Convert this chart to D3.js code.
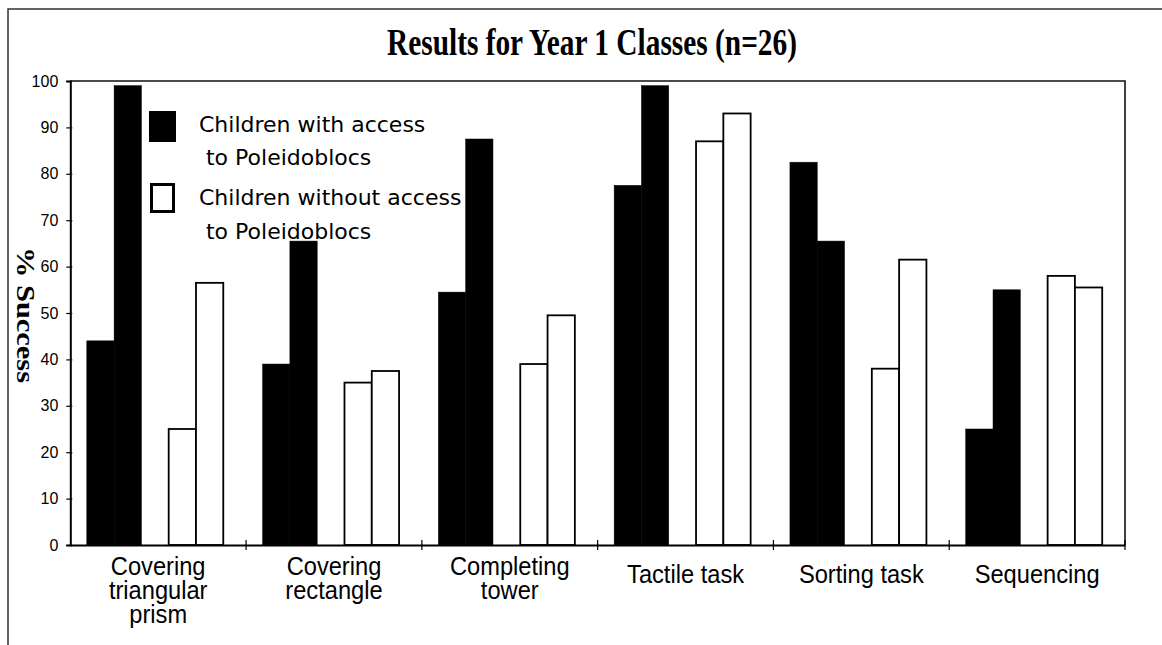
<!DOCTYPE html>
<html>
<head>
<meta charset="utf-8">
<script src="https://cdn.jsdelivr.net/npm/d3@7"></script>
<style>
  body { margin: 0; background: #fff; }
  svg { display: block; }
</style>
</head>
<body>
<div id="my_dataviz"></div>
<script>
// data
var categories = ["Covering\ntriangular\nprism", "Covering\nrectangle", "Completing\ntower",
                  "Tactile task", "Sorting task", "Sequencing"];
var withAccessA    = [44, 39, 54.5, 77.5, 82.5, 25];
var withAccessB    = [99, 65.5, 87.5, 99, 65.5, 55];
var withoutAccessA = [25, 35, 39, 87, 38, 58];
var withoutAccessB = [56.5, 37.5, 49.5, 93, 61.5, 55.5];
var yTicks = [0, 10, 20, 30, 40, 50, 60, 70, 80, 90, 100];
var legendLabels = [["Children with access", " to Poleidoblocs"],
                    ["Children without access", " to Poleidoblocs"]];

// set the dimensions and margins of the graph
var W = 1162, H = 645;
var margin = {top: 81, right: 37, bottom: 100, left: 70.3},
    width = 1125 - margin.left,
    height = 545 - margin.top;

var root = d3.select("#my_dataviz")
  .append("svg")
    .attr("width", W)
    .attr("height", H);

// outer frame (top and left edge only, like the scan)
root.append("path")
  .attr("d", "M8,645 L8,9 L1162,9")
  .attr("fill", "none")
  .attr("stroke", "#333")
  .attr("stroke-width", 1.5);

// title
root.append("text")
  .attr("x", 592).attr("y", 55)
  .attr("text-anchor", "middle")
  .style("font-family", "'Liberation Serif', 'Times New Roman', serif")
  .style("font-weight", "bold")
  .style("font-size", "38px")
  .attr("textLength", 410)
  .attr("lengthAdjust", "spacingAndGlyphs")
  .text("Results for Year 1 Classes (n=26)");

var svg = root.append("g")
  .attr("transform", "translate(" + margin.left + "," + margin.top + ")");

// scales
var x = d3.scaleBand()
  .domain(categories)
  .range([0, width])
  .padding(0);

var slots = ["wa", "wb", "gap", "na", "nb"];
var x1 = d3.scaleBand()
  .domain(slots)
  .range([0, x.bandwidth()])
  .paddingInner(0)
  .paddingOuter(0.72)
  .align(0.42);

var y = d3.scaleLinear()
  .domain([0, 100])
  .range([height, 0]);

// flatten into bars
var bars = [];
categories.forEach(function(c, i) {
  bars.push({cat: c, slot: "wa", v: withAccessA[i], fill: "#000"});
  bars.push({cat: c, slot: "wb", v: withAccessB[i], fill: "#000"});
  bars.push({cat: c, slot: "na", v: withoutAccessA[i], fill: "#fff"});
  bars.push({cat: c, slot: "nb", v: withoutAccessB[i], fill: "#fff"});
});

svg.selectAll(".bar")
  .data(bars)
  .enter().append("rect")
    .attr("class", "bar")
    .attr("x", function(d) { return x(d.cat) + x1(d.slot); })
    .attr("y", function(d) { return y(d.v); })
    .attr("width", x1.bandwidth())
    .attr("height", function(d) { return height - y(d.v); })
    .style("fill", function(d) { return d.fill; })
    .style("stroke", "#000")
    .style("stroke-width", function(d) { return d.fill == "#000" ? 0.5 : 1.8; });

// plot frame: top and right
svg.append("path")
  .attr("d", "M0,0 L" + width + ",0 L" + width + "," + height)
  .attr("fill", "none")
  .attr("stroke", "#111")
  .attr("stroke-width", 1.6);

// Y axis
var yAxis = svg.append("g")
  .call(d3.axisLeft(y).tickValues(yTicks).tickSize(4).tickPadding(8));
yAxis.select(".domain").attr("stroke-width", 2);
yAxis.selectAll(".tick line").attr("x1", 2).attr("stroke-width", 1.2);
yAxis.selectAll(".tick text")
  .style("font-family", "'Liberation Sans', Arial, sans-serif")
  .style("font-size", "16px")
  .attr("fill", "#000");

// X axis: ticks on category boundaries
var xAxis = svg.append("g")
  .attr("transform", "translate(0," + height + ")")
  .call(d3.axisBottom(x).tickSize(0).tickFormat(""));
xAxis.select(".domain").attr("stroke-width", 2);

var bounds = categories.map(function(c) { return x(c); }).slice(1).concat([width]);
xAxis.selectAll(".bound")
  .data(bounds)
  .enter().append("line")
    .attr("class", "bound")
    .attr("x1", function(d) { return d; })
    .attr("x2", function(d) { return d; })
    .attr("y1", -5).attr("y2", 5)
    .attr("stroke", "#000")
    .attr("stroke-width", 1.2);

// category labels (multi-line, slightly condensed like the original)
xAxis.selectAll(".cat")
  .data(categories)
  .enter().append("text")
    .attr("class", "cat")
    .attr("text-anchor", "middle")
    .attr("transform", function(d) {
      var ty = d.indexOf("\n") < 0 ? 38 : 30;
      return "translate(" + (x(d) + x.bandwidth() / 2) + "," + ty + ") scale(0.91,1)";
    })
    .style("font-family", "'Liberation Sans', Arial, sans-serif")
    .style("font-size", "26px")
    .attr("fill", "#000")
    .each(function(d) {
      var t = d3.select(this);
      d.split("\n").forEach(function(line, k) {
        t.append("tspan")
          .attr("x", 0)
          .attr("dy", k == 0 ? 0 : 24)
          .text(line);
      });
    });

// y label
root.append("text")
  .attr("transform", "translate(17,315) rotate(90)")
  .attr("text-anchor", "middle")
  .style("font-family", "'Liberation Serif', 'Times New Roman', serif")
  .style("font-weight", "bold")
  .style("font-size", "26px")
  .attr("textLength", 136)
  .attr("lengthAdjust", "spacingAndGlyphs")
  .text("% Success");

// legend
var legend = root.append("g");
legend.append("rect")
  .attr("x", 149).attr("y", 111).attr("width", 27).attr("height", 31)
  .style("fill", "#000");
legend.append("rect")
  .attr("x", 151.5).attr("y", 184.5).attr("width", 22).attr("height", 27)
  .style("fill", "#fff").style("stroke", "#000").style("stroke-width", 3);

var legendY = [132, 165, 205, 239];
var legendLines = legendLabels[0].concat(legendLabels[1]);
legend.selectAll(".lg")
  .data(legendLines)
  .enter().append("text")
    .attr("class", "lg")
    .attr("x", 199)
    .attr("y", function(d, i) { return legendY[i]; })
    .style("font-family", "'DejaVu Sans', sans-serif")
    .style("font-size", "22px")
    .style("white-space", "pre")
    .attr("xml:space", "preserve")
    .attr("fill", "#000")
    .text(function(d) { return d; });
</script>
</body>
</html>
